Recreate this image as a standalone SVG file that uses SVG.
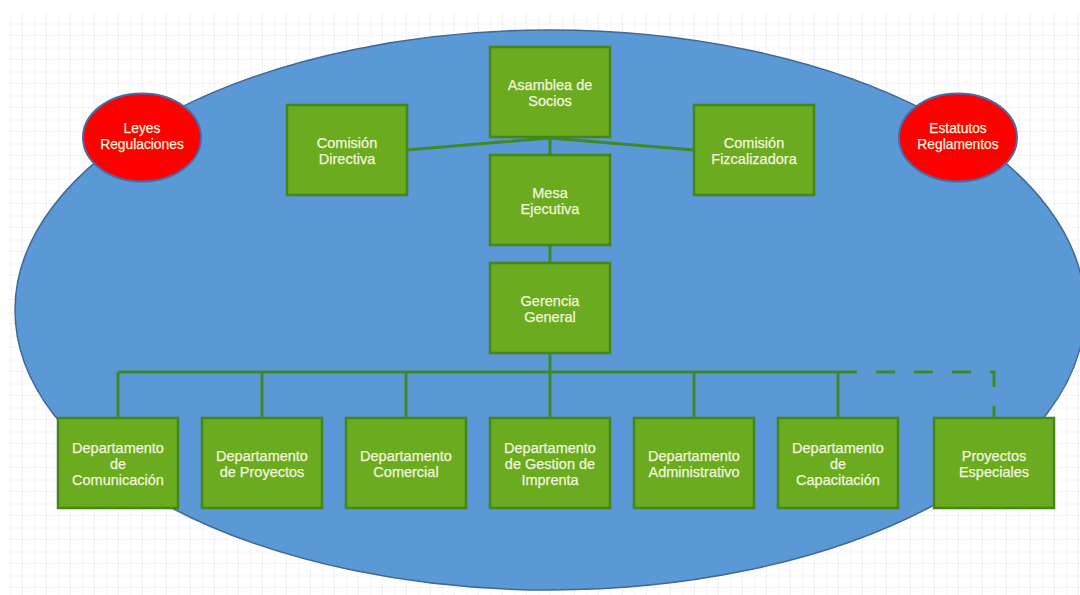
<svg xmlns="http://www.w3.org/2000/svg" width="1080" height="595" viewBox="0 0 1080 595">
  <style>
    .box { fill: #6aab1f; stroke: #45851a; stroke-width: 2.5; }
    .law { fill: #fe0000; stroke: #4b6aa6; stroke-width: 2; }
    .lbl { font-family: "Liberation Sans", Arial, sans-serif; font-size: 14.5px; fill: #f3f5de; stroke: #f3f5de; stroke-width: 0.25; text-anchor: middle; }
    .lbl-s { font-size: 13.8px; }
    .wire { fill: none; stroke: #3f8a26; stroke-width: 3; }
    .dash { stroke-dasharray: 19 19; }
  </style>
  <defs>
    <pattern id="grid" patternUnits="userSpaceOnUse" x="-1" y="12" width="24" height="24">
      <rect width="24" height="24" fill="#ffffff"/>
      <path d="M12 0V24M0 12H24" stroke="#f5f5fa" stroke-width="1"/>
      <path d="M24 0V24M0 24H24" stroke="#e8e8f3" stroke-width="1.2"/>
    </pattern>
  </defs>

  <!-- page and grid paper -->
  <rect width="1080" height="595" fill="#ffffff"/>
  <rect x="7" y="13" width="1073" height="582" fill="url(#grid)"/>

  <!-- organisation boundary -->
  <ellipse id="boundary" cx="550" cy="310" rx="535" ry="280" fill="#5a98d6" stroke="#40699a" stroke-width="1.5"/>

  <!-- connectors -->
  <g id="connectors">
    <path class="wire" d="M407 150L550 138L694 150"/>
    <path class="wire" d="M550 137V155"/>
    <path class="wire" d="M550 245V263"/>
    <path class="wire" d="M550 353V372"/>
    <path class="wire" d="M118 372H838"/>
    <path class="wire" d="M118 372V418M262 372V418M406 372V418M550 372V418M694 372V418M838 372V418"/>
    <path class="wire dash" d="M838 372H994V418"/>
  </g>

  <!-- external frameworks -->
  <g id="leyes">
    <ellipse class="law" cx="142" cy="137.5" rx="59" ry="44"/>
    <text class="lbl lbl-s" x="142" y="133">Leyes</text>
    <text class="lbl lbl-s" x="142" y="149">Regulaciones</text>
  </g>
  <g id="estatutos">
    <ellipse class="law" cx="958" cy="137.5" rx="59" ry="44"/>
    <text class="lbl lbl-s" x="958" y="133">Estatutos</text>
    <text class="lbl lbl-s" x="958" y="149">Reglamentos</text>
  </g>

  <!-- governing bodies -->
  <g id="asamblea">
    <rect class="box" x="490" y="47" width="120" height="90"/>
    <text class="lbl" x="550" y="89.5">Asamblea de</text>
    <text class="lbl" x="550" y="106">Socios</text>
  </g>
  <g id="comision-directiva">
    <rect class="box" x="287" y="105" width="120" height="90"/>
    <text class="lbl" x="347" y="147.5">Comisión</text>
    <text class="lbl" x="347" y="164">Directiva</text>
  </g>
  <g id="comision-fizcalizadora">
    <rect class="box" x="694" y="105" width="120" height="90"/>
    <text class="lbl" x="754" y="147.5">Comisión</text>
    <text class="lbl" x="754" y="164">Fizcalizadora</text>
  </g>
  <g id="mesa">
    <rect class="box" x="490" y="155" width="120" height="90"/>
    <text class="lbl" x="550" y="197.5">Mesa</text>
    <text class="lbl" x="550" y="214">Ejecutiva</text>
  </g>
  <g id="gerencia">
    <rect class="box" x="490" y="263" width="120" height="90"/>
    <text class="lbl" x="550" y="305.5">Gerencia</text>
    <text class="lbl" x="550" y="322">General</text>
  </g>

  <!-- departments -->
  <g id="dep-comunicacion">
    <rect class="box" x="58" y="418" width="120" height="90"/>
    <text class="lbl" x="118" y="452.5">Departamento</text>
    <text class="lbl" x="118" y="468.5">de</text>
    <text class="lbl" x="118" y="484.5">Comunicación</text>
  </g>
  <g id="dep-proyectos">
    <rect class="box" x="202" y="418" width="120" height="90"/>
    <text class="lbl" x="262" y="460.5">Departamento</text>
    <text class="lbl" x="262" y="477">de Proyectos</text>
  </g>
  <g id="dep-comercial">
    <rect class="box" x="346" y="418" width="120" height="90"/>
    <text class="lbl" x="406" y="460.5">Departamento</text>
    <text class="lbl" x="406" y="477">Comercial</text>
  </g>
  <g id="dep-imprenta">
    <rect class="box" x="490" y="418" width="120" height="90"/>
    <text class="lbl" x="550" y="452.5">Departamento</text>
    <text class="lbl" x="550" y="468.5">de Gestion de</text>
    <text class="lbl" x="550" y="484.5">Imprenta</text>
  </g>
  <g id="dep-administrativo">
    <rect class="box" x="634" y="418" width="120" height="90"/>
    <text class="lbl" x="694" y="460.5">Departamento</text>
    <text class="lbl" x="694" y="477">Administrativo</text>
  </g>
  <g id="dep-capacitacion">
    <rect class="box" x="778" y="418" width="120" height="90"/>
    <text class="lbl" x="838" y="452.5">Departamento</text>
    <text class="lbl" x="838" y="468.5">de</text>
    <text class="lbl" x="838" y="484.5">Capacitación</text>
  </g>
  <g id="proyectos-especiales">
    <rect class="box" x="934" y="418" width="120" height="90"/>
    <text class="lbl" x="994" y="460.5">Proyectos</text>
    <text class="lbl" x="994" y="477">Especiales</text>
  </g>
</svg>
